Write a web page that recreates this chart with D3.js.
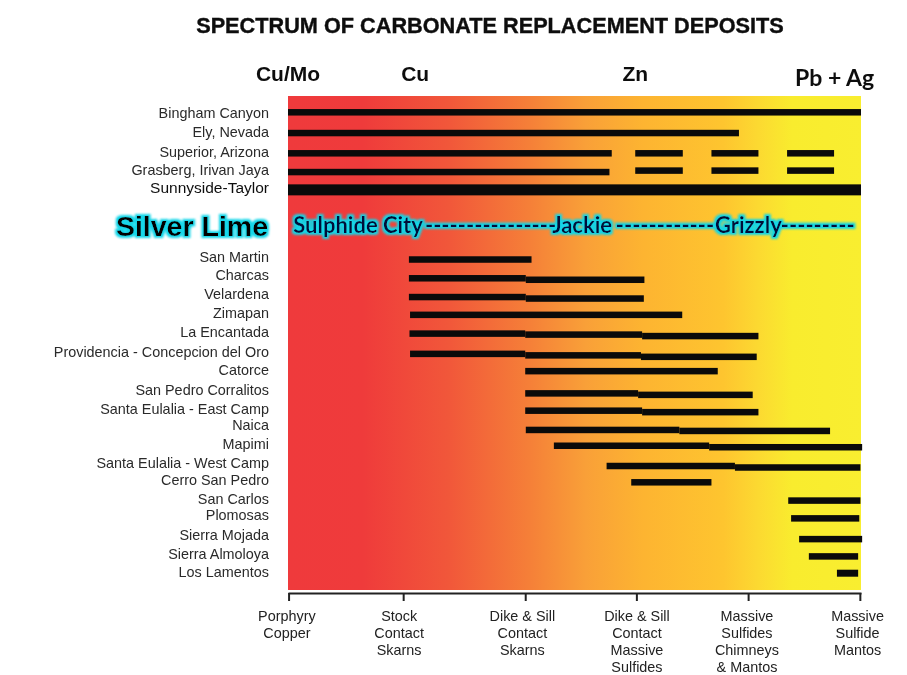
<!DOCTYPE html>
<html>
<head>
<meta charset="utf-8">
<script src="https://cdn.jsdelivr.net/npm/d3@7/dist/d3.min.js"></script>
<style>
  html, body { margin: 0; padding: 0; background: #fff; }
  text { font-family: "Liberation Sans", Arial, sans-serif; }
</style>
</head>
<body>
<div id="viz"></div>
<script>
const width = 907;
const height = 675;
const margin = {top: 96, right: 46, bottom: 85, left: 288};

const chartTitle = 'SPECTRUM OF CARBONATE REPLACEMENT DEPOSITS';

// Deposit names and where each label sits (vertical level, 0-100 down the plot)
const deposits = [
  'Bingham Canyon', 'Ely, Nevada', 'Superior, Arizona', 'Grasberg, Irivan Jaya', 'Sunnyside-Taylor',
  'San Martin', 'Charcas', 'Velardena', 'Zimapan', 'La Encantada', 'Providencia - Concepcion del Oro',
  'Catorce', 'San Pedro Corralitos', 'Santa Eulalia - East Camp', 'Naica', 'Mapimi',
  'Santa Eulalia - West Camp', 'Cerro San Pedro', 'San Carlos', 'Plomosas', 'Sierra Mojada',
  'Sierra Almoloya', 'Los Lamentos'
];
const labelLevels = [3.5, 7.3, 11.3, 15.0, 18.6, 32.5, 36.3, 40.1, 43.9, 47.8, 51.8, 55.5, 59.5, 63.3, 66.6, 70.5, 74.2, 77.7, 81.6, 84.9, 88.9, 92.8, 96.3];

// Bar pieces: [deposit, from, to, level]. x runs 0-100 across the spectrum
const ranges = [
  ['Bingham Canyon', 0, 100, 3.3],
  ['Ely, Nevada', 0, 78.7, 7.5],
  ['Superior, Arizona', 0, 56.5, 11.6],
  ['Superior, Arizona', 60.6, 68.9, 11.6],
  ['Superior, Arizona', 73.9, 82.1, 11.6],
  ['Superior, Arizona', 87.1, 95.3, 11.6],
  ['Grasberg, Irivan Jaya', 0, 56.1, 15.4],
  ['Grasberg, Irivan Jaya', 60.6, 68.9, 15.1],
  ['Grasberg, Irivan Jaya', 73.9, 82.1, 15.1],
  ['Grasberg, Irivan Jaya', 87.1, 95.3, 15.1],
  ['Sunnyside-Taylor', 0, 100, 19.0],
  ['San Martin', 21.1, 42.5, 33.1],
  ['Charcas', 21.1, 41.5, 36.9],
  ['Charcas', 41.5, 62.2, 37.2],
  ['Velardena', 21.1, 41.5, 40.7],
  ['Velardena', 41.5, 62.1, 41.0],
  ['Zimapan', 21.3, 68.8, 44.3],
  ['La Encantada', 21.2, 41.4, 48.1],
  ['La Encantada', 41.4, 61.8, 48.3],
  ['La Encantada', 61.8, 82.1, 48.6],
  ['Providencia - Concepcion del Oro', 21.3, 41.4, 52.2],
  ['Providencia - Concepcion del Oro', 41.4, 61.6, 52.5],
  ['Providencia - Concepcion del Oro', 61.6, 81.8, 52.8],
  ['Catorce', 41.4, 75.0, 55.7],
  ['San Pedro Corralitos', 41.4, 61.1, 60.2],
  ['San Pedro Corralitos', 61.1, 81.1, 60.5],
  ['Santa Eulalia - East Camp', 41.4, 61.8, 63.7],
  ['Santa Eulalia - East Camp', 61.8, 82.1, 64.0],
  ['Naica', 41.5, 68.3, 67.6],
  ['Naica', 68.3, 94.6, 67.8],
  ['Mapimi', 46.4, 73.5, 70.8],
  ['Mapimi', 73.5, 100.2, 71.1],
  ['Santa Eulalia - West Camp', 55.6, 78.0, 74.9],
  ['Santa Eulalia - West Camp', 78.0, 99.9, 75.2],
  ['Cerro San Pedro', 59.9, 73.9, 78.2],
  ['San Carlos', 87.3, 99.9, 81.9],
  ['Plomosas', 87.8, 99.7, 85.5],
  ['Sierra Mojada', 89.2, 100.2, 89.7],
  ['Sierra Almoloya', 90.9, 99.5, 93.2],
  ['Los Lamentos', 95.8, 99.5, 96.6]
];

// Metals across the top
const metals = ['Cu/Mo', 'Cu', 'Zn', 'Pb + Ag'];
const metalPositions = [0, 22.2, 60.6, 95.4];

// Deposit styles along the bottom
const stageTicks = [0.1, 20.1, 41.4, 60.8, 80.3, 99.8];
const stageCenters = [-0.2, 19.4, 40.9, 60.9, 80.1, 99.4];
const stageLabels = [
  ['Porphyry', 'Copper'],
  ['Stock', 'Contact', 'Skarns'],
  ['Dike & Sill', 'Contact', 'Skarns'],
  ['Dike & Sill', 'Contact', 'Massive', 'Sulfides'],
  ['Massive', 'Sulfides', 'Chimneys', '& Mantos'],
  ['Massive', 'Sulfide', 'Mantos']
];

// The highlighted line across the plot
const highlightName = 'Silver Lime';
const highlightLevel = 26.3;
const highlightParts = ['Sulphide City', '----------------', 'Jackie', '------------', 'Grizzly', '---------'];
const highlightFrom = [0.9, 23.9, 46.1, 57.2, 74.5, 86.0];

const gradientStops = [
  [0, '#EF3A3C'], [13, '#EF3B3B'], [28, '#F1573A'], [42, '#F57F38'], [52, '#F9A038'],
  [62, '#FDB431'], [76, '#FEC52F'], [82, '#FCD931'], [88, '#F9EC2E'], [100, '#F9EE30']
];

const scaleX = d3.scaleLinear()
  .domain([0, 100])
  .range([margin.left, width - margin.right]);

const scaleY = d3.scaleLinear()
  .domain([0, 100])
  .range([margin.top, height - margin.bottom]);

const svg = d3.select('#viz')
  .append('svg')
    .attr('viewBox', [0, 0, width, height])
    .attr('width', width)
    .attr('height', height)
    .style('display', 'block');

const defs = svg.append('defs');

defs.append('linearGradient')
    .attr('id', 'spectrum')
  .selectAll('stop')
  .data(gradientStops)
  .join('stop')
    .attr('offset', d => `${d[0]}%`)
    .attr('stop-color', d => d[1]);

// Cyan halo behind the highlighted text
const glow = defs.append('filter')
  .attr('id', 'glow')
  .attr('x', '-10%').attr('y', '-40%')
  .attr('width', '120%').attr('height', '180%');
glow.append('feMorphology')
  .attr('in', 'SourceAlpha').attr('operator', 'dilate').attr('radius', 1.6).attr('result', 'fat');
glow.append('feGaussianBlur')
  .attr('in', 'fat').attr('stdDeviation', 1).attr('result', 'soft');
glow.append('feFlood')
  .attr('flood-color', '#12D5E8').attr('result', 'cyan');
glow.append('feComposite')
  .attr('in', 'cyan').attr('in2', 'soft').attr('operator', 'in').attr('result', 'halo');
const glowMerge = glow.append('feMerge');
glowMerge.append('feMergeNode').attr('in', 'halo');
glowMerge.append('feMergeNode').attr('in', 'SourceGraphic');

// The source picture is a soft scan, so the small text gets a slight blur
defs.append('filter')
    .attr('id', 'soft')
  .append('feGaussianBlur')
    .attr('stdDeviation', 0.35);

// Plot background
svg.append('rect')
  .attr('x', scaleX(0))
  .attr('y', scaleY(0))
  .attr('width', scaleX(100) - scaleX(0))
  .attr('height', scaleY(100) - scaleY(0))
  .attr('fill', 'url(#spectrum)');

// Title
svg.append('text')
  .attr('x', 490)
  .attr('y', 33)
  .attr('text-anchor', 'middle')
  .attr('filter', 'url(#soft)')
  .style('font-size', '21.7px')
  .style('font-weight', 700)
  .attr('fill', '#111')
  .attr('stroke', '#111')
  .attr('stroke-width', 0.4)
  .text(chartTitle);

// Metals
svg.append('g')
  .selectAll('text')
  .data(metals)
  .join('text')
    .attr('x', (d, i) => scaleX(metalPositions[i]))
    .attr('y', d => d === 'Pb + Ag' ? 86 : 81)
    .attr('text-anchor', 'middle')
    .attr('filter', 'url(#soft)')
    .style('font-family', d => d === 'Pb + Ag' ? 'Lato, sans-serif' : null)
    .style('font-size', d => d === 'Pb + Ag' ? '23px' : '21px')
    .style('font-weight', 700)
    .attr('fill', '#111')
    .text(d => d);

// Deposit names
svg.append('g')
    .attr('filter', 'url(#soft)')
  .selectAll('text')
  .data(deposits)
  .join('text')
    .attr('x', 269)
    .attr('y', (d, i) => scaleY(labelLevels[i]))
    .attr('dy', '0.35em')
    .attr('text-anchor', 'end')
    .style('font-size', d => d === 'Sunnyside-Taylor' ? '15.5px' : '14.4px')
    .attr('fill', d => d === 'Sunnyside-Taylor' ? '#111' : '#2a2a2a')
    .text(d => d);

// Bars
svg.append('g')
  .selectAll('rect')
  .data(ranges)
  .join('rect')
    .attr('x', d => scaleX(d[1]))
    .attr('width', d => scaleX(d[2]) - scaleX(d[1]))
    .attr('y', d => scaleY(d[3]) - barSize(d[0]) / 2)
    .attr('height', d => barSize(d[0]))
    .attr('fill', '#0a0a0a');

function barSize(name) {
  if (name === 'Sunnyside-Taylor') return 11;
  if (name === 'Los Lamentos') return 7;
  return 6.5;
}

// Highlighted row
svg.append('text')
  .attr('x', 268)
  .attr('y', scaleY(highlightLevel))
  .attr('dy', '0.35em')
  .attr('text-anchor', 'end')
  .attr('filter', 'url(#glow)')
  .style('font-size', '28.5px')
  .style('font-weight', 700)
  .attr('fill', '#050505')
  .text(highlightName);

svg.append('g')
    .attr('filter', 'url(#glow)')
  .selectAll('text')
  .data(highlightParts)
  .join('text')
    .attr('x', (d, i) => scaleX(highlightFrom[i]))
    .attr('y', scaleY(highlightLevel))
    .attr('dy', '0.3em')
    .style('font-family', 'Lato, sans-serif')
    .style('font-size', '22px')
    .style('font-weight', 700)
    .attr('fill', '#06103a')
    .text(d => d);

// Bottom axis
const axisBottom = d3.axisBottom(scaleX)
  .tickValues(stageTicks)
  .tickFormat('')
  .tickSizeInner(8)
  .tickSizeOuter(0);
const xAxis = svg.append('g')
  .attr('transform', 'translate(0,593)')
  .call(axisBottom);
xAxis.selectAll('path, line')
  .attr('stroke', '#222')
  .attr('stroke-width', 2);

// Stage labels, one text per line
svg.append('g')
    .attr('filter', 'url(#soft)')
  .selectAll('g')
  .data(stageLabels)
  .join('g')
  .each(function(lines, i) {
    d3.select(this)
      .selectAll('text')
      .data(lines)
      .join('text')
        .attr('x', scaleX(stageCenters[i]))
        .attr('y', (d, j) => 621 + j * 17)
        .attr('text-anchor', 'middle')
        .style('font-size', '14.4px')
        .attr('fill', '#222')
        .text(d => d);
  });
</script>
</body>
</html>
